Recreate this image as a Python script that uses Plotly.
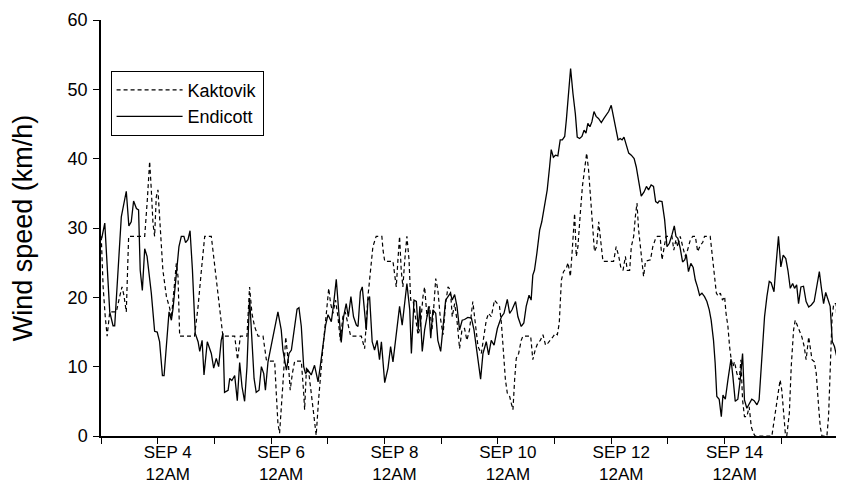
import pandas as pd
import plotly.graph_objects as go

# (hours after SEP 3 12AM, wind speed km/h)
endicott = [
    (0.3, 28.5), (1.6, 30.7), (3.7, 17.9), (5.1, 15.9), (5.8, 15.9), (8.6, 31.6), (10.7, 35.3),
    (11.8, 30.3), (12.8, 30.9), (13.8, 33.9), (15.0, 32.8), (15.9, 32.6), (16.6, 23.9), (17.5, 21.0),
    (18.5, 27.0), (19.5, 25.9), (21.3, 20.6), (22.7, 15.1), (23.8, 15.0), (24.8, 13.6), (26.0, 8.7),
    (26.7, 8.7), (28.8, 17.9), (29.8, 16.7), (30.5, 18.4), (31.9, 23.9), (33.0, 27.3), (34.0, 28.8),
    (35.1, 28.8), (35.8, 27.9), (36.8, 28.3), (37.7, 29.6), (38.7, 24.0), (39.9, 14.8), (41.1, 13.6),
    (41.8, 12.2), (42.8, 13.8), (43.6, 8.8), (45.0, 13.6), (46.7, 11.9), (47.7, 9.8), (48.8, 11.2),
    (49.8, 10.0), (50.9, 13.8), (51.6, 14.8), (52.3, 6.3), (53.8, 6.6), (54.5, 8.3), (55.4, 8.0),
    (56.6, 8.7), (57.7, 5.1), (58.7, 10.6), (59.7, 7.1), (60.8, 5.0), (61.8, 10.0), (62.9, 19.9),
    (64.1, 13.4), (64.8, 8.3), (65.7, 6.3), (66.9, 6.6), (67.9, 10.0), (68.9, 9.0), (69.6, 6.6),
    (70.7, 10.7), (72.1, 13.1), (73.5, 15.8), (74.9, 17.9), (76.3, 15.3), (77.0, 12.4), (78.5, 9.5),
    (79.6, 11.9), (80.6, 12.4), (82.0, 15.8), (83.0, 18.3), (83.8, 18.5), (84.8, 15.8), (85.8, 10.0),
    (86.6, 9.0), (87.6, 9.5), (89.0, 8.8), (90.4, 10.2), (91.9, 7.8), (93.0, 10.5), (94.0, 12.9),
    (95.1, 16.0), (96.1, 17.5), (97.5, 16.5), (98.5, 19.1), (99.6, 22.6), (100.7, 17.7), (101.7, 13.5),
    (102.7, 17.2), (103.8, 19.1), (104.7, 17.2), (105.8, 20.1), (106.9, 17.2), (108.1, 16.0),
    (108.8, 15.8), (109.8, 20.8), (110.6, 21.5), (111.6, 17.2), (112.3, 15.3), (113.0, 19.6),
    (113.7, 20.1), (114.8, 13.6), (115.8, 12.4), (116.9, 13.8), (117.9, 11.0), (118.7, 13.6),
    (120.1, 7.7), (121.5, 9.8), (122.6, 12.9), (123.6, 10.7), (125.0, 14.8), (126.4, 18.7),
    (127.5, 16.0), (128.6, 19.4), (129.5, 22.0), (130.7, 18.2), (131.4, 11.9), (132.5, 19.6),
    (133.5, 19.4), (134.3, 15.3), (135.0, 18.7), (136.0, 12.2), (137.0, 15.3), (138.0, 17.2),
    (138.7, 18.7), (139.6, 14.1), (140.5, 18.2), (141.7, 17.7), (142.6, 13.8), (143.8, 12.2),
    (144.8, 15.8), (145.9, 19.6), (146.9, 20.1), (147.9, 20.6), (148.7, 19.6), (149.7, 20.4),
    (150.7, 18.7), (151.8, 15.3), (152.9, 16.7), (153.9, 16.8), (155.3, 17.1), (156.8, 17.0),
    (157.9, 15.3), (159.3, 11.9), (160.7, 8.2), (161.7, 11.9), (163.1, 13.6), (164.1, 11.7),
    (165.2, 13.8), (166.4, 13.1), (167.8, 15.5), (169.5, 17.2), (170.6, 17.7), (172.0, 19.7),
    (173.0, 17.7), (174.0, 18.2), (175.5, 19.4), (176.5, 17.2), (177.9, 15.8), (179.0, 16.3),
    (180.0, 18.7), (181.2, 20.3), (182.1, 19.6), (182.8, 23.2), (183.5, 23.9), (184.5, 26.3),
    (185.7, 29.7), (186.6, 30.9), (187.8, 33.1), (188.9, 35.5), (189.9, 38.8), (190.6, 41.3),
    (191.5, 40.2), (192.4, 40.5), (193.4, 40.4), (194.4, 42.7), (195.3, 42.7), (196.3, 43.2),
    (197.0, 45.6), (197.9, 49.4), (198.8, 53.0), (199.8, 49.4), (200.8, 46.5), (201.6, 43.1),
    (202.6, 42.9), (203.6, 43.2), (204.5, 44.1), (205.3, 43.7), (206.1, 45.1), (207.0, 44.6),
    (207.8, 45.3), (208.7, 46.8), (209.6, 46.1), (210.6, 45.8), (211.8, 45.2), (212.9, 45.8),
    (213.9, 46.4), (214.9, 46.8), (216.0, 47.7), (216.8, 46.3), (217.9, 44.1), (218.9, 42.7),
    (219.8, 42.9), (220.6, 42.7), (221.4, 43.1), (222.4, 42.0), (223.4, 40.8), (224.5, 40.5),
    (225.7, 40.0), (226.6, 38.8), (227.6, 36.9), (228.7, 34.6), (229.9, 35.2), (230.9, 36.0),
    (231.8, 35.5), (232.9, 36.2), (233.9, 36.0), (234.8, 33.8), (235.7, 33.6), (236.3, 33.9),
    (237.5, 33.8), (238.6, 31.2), (239.6, 27.3), (240.6, 27.8), (241.7, 29.0), (242.7, 30.3),
    (243.4, 28.8), (244.2, 28.5), (245.2, 27.1), (246.2, 25.1), (247.1, 25.4), (247.8, 26.1),
    (248.7, 23.7), (249.7, 24.9), (250.7, 24.3), (251.6, 22.5), (252.5, 21.5), (253.4, 20.3),
    (254.4, 20.6), (255.5, 20.1), (256.5, 19.4), (257.5, 18.2), (258.3, 16.7), (259.3, 13.8),
    (260.0, 10.5), (260.7, 5.7), (261.7, 5.3), (262.6, 2.8), (263.3, 5.9), (264.3, 5.3),
    (265.4, 8.1), (266.7, 11.1), (267.5, 8.6), (268.5, 5.0), (269.6, 5.3), (270.6, 8.1),
    (271.6, 11.9), (272.4, 5.2), (273.4, 4.0), (274.4, 4.7), (275.5, 5.3), (276.5, 5.1),
    (277.7, 4.5), (278.6, 5.2), (279.8, 11.4), (280.9, 17.2), (281.9, 20.1), (282.9, 22.3),
    (283.7, 22.1), (284.9, 20.8), (285.7, 24.4), (286.8, 28.8), (287.8, 24.4), (288.8, 26.1),
    (289.9, 25.6), (290.8, 23.9), (291.8, 21.3), (292.8, 22.0), (293.6, 21.3), (294.5, 21.8),
    (295.3, 19.1), (296.3, 21.5), (297.4, 21.6), (298.5, 19.4), (299.6, 18.6), (300.7, 18.9),
    (301.9, 19.4), (303.1, 21.8), (304.1, 23.7), (304.9, 21.5), (305.9, 19.1), (306.8, 20.7),
    (307.7, 19.6), (308.7, 18.7), (309.6, 13.6), (310.5, 12.9), (311.5, 11.4), (312.0, 10.5),
]

kaktovik = [
    (0.1, 28.8), (0.9, 21.5), (1.8, 17.2), (2.6, 14.4), (3.7, 17.9), (6.5, 17.9), (7.9, 20.1),
    (8.9, 21.5), (9.7, 20.3), (10.7, 17.9), (11.7, 28.8), (16.4, 28.8), (18.5, 28.8), (19.6, 34.0),
    (20.6, 39.6), (21.3, 35.5), (22.0, 30.7), (22.7, 28.8), (23.4, 34.5), (24.1, 35.5), (24.8, 31.2),
    (25.5, 27.3), (26.2, 23.9), (27.7, 20.1), (29.1, 18.4), (29.8, 17.0), (30.9, 20.6), (31.9, 24.9),
    (32.6, 23.0), (33.3, 14.4), (39.6, 14.4), (41.1, 18.7), (42.5, 23.9), (43.9, 28.8), (46.7, 28.8),
    (48.1, 24.9), (49.5, 21.1), (50.7, 17.7), (51.6, 14.4), (56.6, 14.4), (57.8, 11.0), (59.0, 14.4),
    (61.8, 14.4), (62.9, 21.5), (63.9, 17.7), (65.0, 15.8), (66.5, 14.4), (68.6, 14.4), (70.0, 11.0),
    (71.4, 10.8), (73.5, 10.8), (74.2, 6.2), (74.9, 1.8), (75.6, 0.4), (76.3, 3.4), (77.2, 8.5),
    (78.2, 14.3), (79.2, 11.0), (80.1, 6.6), (81.0, 9.0), (82.0, 10.8), (84.8, 10.8), (85.8, 6.2),
    (86.2, 3.8), (87.0, 10.0), (88.0, 9.0), (89.0, 6.2), (90.0, 2.8), (91.1, 0.1), (92.1, 5.2),
    (93.0, 9.0), (94.0, 12.9), (95.4, 17.7), (96.4, 21.3), (97.2, 19.1), (98.2, 17.7), (99.3, 19.6),
    (100.3, 17.2), (101.3, 13.8), (102.4, 17.2), (103.4, 17.9), (104.6, 15.8), (105.7, 14.4),
    (110.2, 14.4), (111.6, 12.6), (113.0, 20.1), (114.0, 23.2), (115.1, 27.3), (116.5, 28.8),
    (118.9, 28.8), (119.4, 26.8), (120.1, 25.2), (123.6, 25.2), (124.3, 23.0), (125.0, 21.5),
    (125.7, 25.4), (126.4, 28.8), (127.1, 23.9), (127.8, 21.5), (128.6, 25.4), (129.5, 28.8),
    (130.4, 25.4), (131.1, 19.6), (132.1, 19.6), (133.2, 16.7), (134.2, 14.6), (135.2, 15.8),
    (136.3, 20.1), (137.0, 21.5), (138.0, 17.2), (139.1, 18.7), (140.1, 15.3), (140.8, 18.2),
    (141.7, 22.7), (142.6, 21.1), (143.6, 17.2), (144.8, 14.6), (145.9, 19.1), (146.9, 21.5),
    (147.9, 21.1), (148.7, 17.2), (149.7, 19.1), (150.7, 16.7), (151.8, 12.6), (152.8, 15.3),
    (153.9, 15.5), (154.9, 13.8), (156.0, 15.3), (157.4, 19.4), (158.4, 16.3), (159.6, 12.9),
    (161.0, 11.9), (162.1, 14.3), (163.1, 16.7), (164.1, 17.7), (165.2, 17.2), (166.6, 19.6),
    (167.8, 19.1), (168.7, 18.7), (169.5, 16.3), (170.2, 12.9), (171.2, 8.1), (172.0, 6.2),
    (173.0, 5.7), (173.7, 4.7), (174.4, 3.8), (175.1, 8.1), (175.8, 11.2), (176.8, 11.9),
    (177.9, 13.8), (178.6, 14.4), (181.9, 14.4), (182.8, 11.0), (183.8, 12.4), (184.9, 13.4),
    (186.0, 13.8), (187.1, 14.6), (188.2, 13.1), (189.2, 13.4), (190.3, 13.8), (191.3, 14.3),
    (192.3, 14.8), (193.2, 14.6), (194.0, 16.3), (194.9, 22.5), (195.8, 23.7), (197.0, 24.2),
    (197.7, 25.0), (198.7, 23.0), (199.5, 26.8), (200.5, 32.1), (201.2, 25.9), (201.9, 27.3),
    (202.9, 32.1), (203.8, 36.0), (204.7, 38.4), (205.6, 40.8), (206.4, 38.4), (207.3, 34.0),
    (208.1, 30.2), (208.9, 26.6), (209.8, 27.3), (210.7, 30.9), (211.5, 28.3), (212.5, 25.2),
    (217.0, 25.2), (218.1, 27.3), (219.2, 25.9), (220.0, 24.4), (221.0, 23.9), (222.0, 25.9),
    (222.8, 23.9), (223.8, 23.9), (224.5, 27.3), (225.5, 28.8), (226.2, 31.6), (226.9, 33.6),
    (227.6, 29.7), (228.7, 25.9), (229.7, 23.0), (230.5, 25.2), (232.6, 25.4), (233.6, 27.3),
    (234.6, 28.3), (235.5, 28.8), (236.7, 28.8), (237.5, 25.4), (238.2, 26.8), (239.2, 28.8),
    (241.7, 28.8), (242.5, 26.8), (243.4, 28.3), (244.2, 27.3), (245.2, 28.8), (246.2, 27.3),
    (247.3, 25.9), (248.3, 26.8), (249.5, 28.3), (250.5, 28.8), (251.6, 28.8), (252.6, 26.6),
    (253.7, 27.5), (254.7, 27.9), (255.5, 28.8), (257.9, 28.8), (258.9, 25.4), (259.8, 23.0),
    (260.5, 20.6), (261.2, 20.2), (262.2, 20.6), (263.1, 19.6), (264.0, 20.1), (264.6, 17.7),
    (265.4, 15.8), (266.1, 12.9), (266.8, 11.0), (267.5, 10.0), (268.2, 10.7), (269.2, 9.0),
    (270.2, 8.1), (270.9, 11.0), (271.6, 5.2), (272.4, 2.8), (273.4, 2.8), (274.4, 4.2),
    (275.3, 1.3), (276.2, 0.4), (276.9, 0.0), (284.0, 0.0), (285.4, 3.3), (286.5, 6.2),
    (287.5, 8.1), (288.2, 6.6), (288.9, 3.3), (289.7, 0.4), (290.3, 0.0), (291.4, 3.3),
    (292.2, 10.0), (293.2, 15.3), (293.9, 16.7), (294.9, 15.8), (295.7, 15.3), (296.7, 14.3),
    (297.7, 12.9), (298.5, 11.0), (299.6, 14.3), (300.3, 12.9), (301.0, 11.0), (302.0, 10.7),
    (302.8, 9.0), (303.8, 4.2), (304.5, 1.3), (305.2, 0.0), (307.3, 0.0), (308.0, 2.8),
    (308.7, 9.0), (309.5, 17.2), (310.2, 19.1), (311.2, 19.1), (311.6, 15.8), (312.0, 13.8),
]

start_day = pd.Timestamp("2010-09-03")
tick_days = list(range(3, 17))
label_days = [4, 6, 8, 10, 12, 14]
tick_labels = ["SEP 4<br>12AM", "SEP 6<br>12AM", "SEP 8<br>12AM", "SEP 10<br>12AM",
               "SEP 12<br>12AM", "SEP 14<br>12AM"]
y_ticks = [0, 10, 20, 30, 40, 50, 60]


def to_xy(pairs):
    xs = [start_day + pd.Timedelta(hours=h) for h, _ in pairs]
    ys = [v for _, v in pairs]
    return xs, ys


kx, ky = to_xy(kaktovik)
ex, ey = to_xy(endicott)
tick_x = [pd.Timestamp(2010, 9, d) for d in tick_days]
label_x = [pd.Timestamp(2010, 9, d) for d in label_days]
x_range = [tick_x[0], tick_x[-1]]

fig = go.Figure()
# Kaktovik on the axis carrying the day tick marks, Endicott on the overlaid axis
# carrying the date labels (both axes share the same range).
fig.add_trace(go.Scatter(x=kx, y=ky, mode="lines", name="Kaktovik", xaxis="x", yaxis="y",
                         line=dict(color="black", width=1.2, dash="4px,3px")))
fig.add_trace(go.Scatter(x=ex, y=ey, mode="lines", name="Endicott", xaxis="x2", yaxis="y",
                         line=dict(color="black", width=1.3)))

# page body adds an 8px margin, so the figure is 8px smaller than the window
font_family = "Liberation Sans, Arial, Helvetica, sans-serif"
fig.update_layout(
    width=836, height=475,
    margin=dict(l=93, r=6, t=12, b=47),
    paper_bgcolor="white", plot_bgcolor="white",
    font=dict(family=font_family, color="black", size=18),
    showlegend=True,
    legend=dict(x=0.013, y=0.878, xanchor="left", yanchor="top",
                bordercolor="black", borderwidth=1, bgcolor="white",
                font=dict(size=18), itemwidth=66, tracegroupgap=0),
    xaxis=dict(
        type="date", range=x_range,
        tickmode="array", tickvals=tick_x, showticklabels=False,
        ticks="outside", ticklen=6, tickwidth=1.3, tickcolor="black",
        showline=True, linecolor="black", linewidth=1.5,
        showgrid=False, zeroline=False, automargin=False,
    ),
    xaxis2=dict(
        type="date", range=x_range, overlaying="x", anchor="y", side="bottom",
        matches="x",
        tickmode="array", tickvals=label_x, ticktext=tick_labels,
        ticks="", showline=False, showgrid=False, zeroline=False,
        tickfont=dict(size=17), ticklabelshift=10, ticklabelstandoff=4, automargin=False,
    ),
    yaxis=dict(
        range=[0, 60], tickmode="array", tickvals=y_ticks,
        ticks="outside", ticklen=6, tickwidth=1.3, tickcolor="black",
        showline=True, linecolor="black", linewidth=1.5,
        showgrid=False, zeroline=False, tickfont=dict(size=18),
        ticklabelstandoff=2, automargin=False,
        title=dict(text="Wind speed (km/h)", font=dict(size=27), standoff=29),
    ),
)

fig.write_html("out.html")
